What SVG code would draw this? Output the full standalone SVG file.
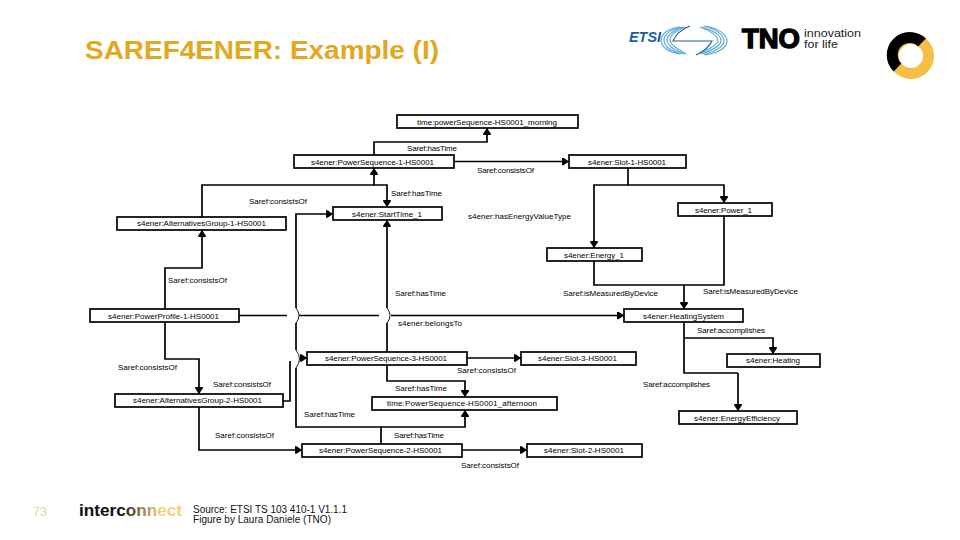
<svg xmlns="http://www.w3.org/2000/svg" width="960" height="540" viewBox="0 0 960 540">
<style>
text{font-family:"Liberation Sans",Arial,sans-serif}
.n rect{fill:#fff;stroke:#000;stroke-width:1.7}
.n text,.l text{font-size:8px;fill:#000}
.c path{fill:none;stroke:#000;stroke-width:1.7}
.c path.a{marker-end:url(#h)}
.c path.hop{stroke-width:.9}
</style>
<defs>
<marker id="h" markerUnits="userSpaceOnUse" markerWidth="8" markerHeight="9" refX="7" refY="4" orient="auto"><path d="M0 .2L1.500 .2L7 4L1.500 7.800L0 7.800Z" fill="#000"/></marker>
<linearGradient id="ic" gradientUnits="userSpaceOnUse" x1="120" y1="0" x2="160" y2="0"><stop offset="0" stop-color="#111"/><stop offset="1" stop-color="#efd27a"/></linearGradient>
</defs>
<rect width="960" height="540" fill="#fff"/>
<text x="85" y="59" font-size="26.500px" font-weight="700" fill="#E2A920" textLength="354" lengthAdjust="spacingAndGlyphs">SAREF4ENER: Example (I)</text>

<g id="logos">
<text x="629" y="42" font-size="14px" font-weight="700" font-style="italic" fill="#1C5E9E" textLength="32" lengthAdjust="spacingAndGlyphs">ETSI</text>
<g fill="none" stroke="#5DA9D6" stroke-width="1.200">
<path d="M680 27C666 29 661 35 661 40C661 46 667 52 680 54"/>
<path d="M682 27C670 30 664 35 664 40C664 46 671 51 682 54"/>
<path d="M684 27C674 30 667 35 667 40C667 45 674 50 684 54"/>
<path d="M686 27C678 30 670 35 670 40C670 45 678 49 686 54"/>
<path d="M706 26C720 29 727 35 727 41C727 47 720 52 706 55"/>
<path d="M704 26C716 29 724 35 724 41C724 47 716 51 704 55"/>
<path d="M702 27C712 30 721 35 721 41C721 46 712 50 702 54"/>
<path d="M700 27C708 30 718 35 718 41C718 45 708 49 700 54"/>
</g>
<path d="M690 26C680 30 675 36 673 41L712 41C710 46 704 51 696 55" fill="none" stroke="#1C5E9E" stroke-width="1.100"/>
<text x="742" y="48" font-size="27px" font-weight="700" fill="#000" stroke="#000" stroke-width="1.400" textLength="58" lengthAdjust="spacingAndGlyphs">TNO</text>
<text x="804" y="36.500" font-size="10.500px" fill="#222" textLength="57" lengthAdjust="spacingAndGlyphs">innovation</text>
<text x="804" y="48" font-size="10.500px" fill="#222" textLength="34" lengthAdjust="spacingAndGlyphs">for life</text>
<circle cx="911" cy="56" r="17.500" fill="none" stroke="#F6BE45" stroke-width="11"/>
<path d="M922 42.500A17.500 17.500 0 1 0 897.500 67.500" fill="none" stroke="#000" stroke-width="11"/>
</g>

<g id="connectors" class="c">
<path class="a" d="M374 155V142H487V128"/>
<path class="a" d="M454 161.500H569"/>
<path class="a" d="M202 217V185H374V168"/>
<path class="a" d="M374 185H387V207"/>
<path class="a" d="M165 309V268H202V230"/>
<path class="a" d="M628 168V185H594V248"/>
<path class="a" d="M628 185H724V203"/>
<path d="M594 261V285H724V216"/>
<path class="a" d="M684 285V309"/>
<path d="M239 315.500H287"/>
<path d="M299 315.500H379"/>
<path class="a" d="M391 315.500H624"/>
<path class="a" d="M165 322V359H199V394"/>
<path class="a" d="M199 407V450H302"/>
<path d="M381 444V427H296V368"/>
<path d="M296 350V323"/>
<path class="a" d="M296 308V214H333"/>
<path class="hop" d="M296 308Q302 315.500 296 323"/>
<path class="hop" d="M296 350Q303 359 296 368"/>
<path class="hop" d="M387 308Q393 315.500 387 323"/>
<path class="a" d="M387 308V220"/>
<path d="M387 323V352"/>
<path class="a" d="M387 365V381H465V397"/>
<path class="a" d="M381 427H465V410"/>
<path d="M283 401H290V361"/>
<path class="a" d="M300 358H307"/>
<path class="a" d="M467 358H521"/>
<path class="a" d="M462 450H527"/>
<path d="M684 322V373H738"/>
<path class="a" d="M738 373V411"/>
<path class="a" d="M684 338H773V354"/>
</g>

<g id="connector-labels" class="l">
<text x="407" y="151" textLength="50">Saref:hasTime</text>
<text x="477" y="173" textLength="57">Saref:consistsOf</text>
<text x="391" y="196" textLength="51">Saref:hasTime</text>
<text x="249" y="204" textLength="58">Saref:consistsOf</text>
<text x="468" y="219" textLength="103">s4ener:hasEnergyValueType</text>
<text x="168" y="283" textLength="59">Saref:consistsOf</text>
<text x="395" y="296" textLength="51">Saref:hasTime</text>
<text x="563" y="296" textLength="95">Saref:isMeasuredByDevice</text>
<text x="703" y="294" textLength="95">Saref:isMeasuredByDevice</text>
<text x="398" y="326" textLength="64">s4ener:belongsTo</text>
<text x="697" y="333" textLength="68">Saref:accomplishes</text>
<text x="643" y="387" textLength="67">Saref:accomplishes</text>
<text x="457" y="373" textLength="59">Saref:consistsOf</text>
<text x="118" y="370" textLength="59">Saref:consistsOf</text>
<text x="213" y="387" textLength="58">Saref:consistsOf</text>
<text x="395" y="391" textLength="52">Saref:hasTime</text>
<text x="304" y="417" textLength="51">Saref:hasTime</text>
<text x="215" y="438" textLength="59">Saref:consistsOf</text>
<text x="394" y="438" textLength="50">Saref:hasTime</text>
<text x="461" y="468" textLength="58">Saref:consistsOf</text>
</g>

<g id="time-morning" class="n"><rect x="397" y="115" width="181" height="13"/><text x="417" y="125" textLength="140">time:powerSequence-HS0001_morning</text></g>
<g id="ps1" class="n"><rect x="294" y="155" width="160" height="13"/><text x="311" y="165" textLength="123">s4ener:PowerSequence-1-HS0001</text></g>
<g id="slot1" class="n"><rect x="569" y="155" width="117" height="13"/><text x="588" y="165" textLength="78">s4ener:Slot-1-HS0001</text></g>
<g id="ag1" class="n"><rect x="117" y="217" width="169" height="13"/><text x="137" y="226" textLength="129">s4ener:AlternativesGroup-1-HS0001</text></g>
<g id="starttime" class="n"><rect x="333" y="207" width="109" height="13"/><text x="352" y="217" textLength="70">s4ener:StartTime_1</text></g>
<g id="power1" class="n"><rect x="678" y="203" width="94" height="13"/><text x="695" y="213" textLength="57">s4ener:Power_1</text></g>
<g id="energy1" class="n"><rect x="547" y="248" width="95" height="13"/><text x="564" y="258" textLength="60">s4ener:Energy_1</text></g>
<g id="pp1" class="n"><rect x="90" y="309" width="149" height="13"/><text x="108" y="319" textLength="111">s4ener:PowerProfile-1-HS0001</text></g>
<g id="heatingsystem" class="n"><rect x="624" y="309" width="119" height="13"/><text x="643" y="319" textLength="81">s4ener:HeatingSystem</text></g>
<g id="ps3" class="n"><rect x="307" y="352" width="160" height="13"/><text x="325" y="361" textLength="122">s4ener:PowerSequence-3-HS0001</text></g>
<g id="slot3" class="n"><rect x="521" y="352" width="115" height="13"/><text x="538" y="361" textLength="79">s4ener:Slot-3-HS0001</text></g>
<g id="heating" class="n"><rect x="727" y="354" width="93" height="13"/><text x="746" y="363" textLength="54">s4ener:Heating</text></g>
<g id="ag2" class="n"><rect x="115" y="394" width="168" height="13"/><text x="133" y="403" textLength="129">s4ener:AlternativesGroup-2-HS0001</text></g>
<g id="time-afternoon" class="n"><rect x="372" y="397" width="185" height="13"/><text x="387" y="406" textLength="150">time:PowerSequence-HS0001_afternoon</text></g>
<g id="ee" class="n"><rect x="679" y="411" width="118" height="13"/><text x="694" y="421" textLength="86">s4ener:EnergyEfficiency</text></g>
<g id="ps2" class="n"><rect x="302" y="444" width="160" height="13"/><text x="319" y="453" textLength="123">s4ener:PowerSequence-2-HS0001</text></g>
<g id="slot2" class="n"><rect x="527" y="444" width="115" height="13"/><text x="544" y="453" textLength="80">s4ener:Slot-2-HS0001</text></g>

<g id="footer">
<text x="33" y="516" font-size="12.500px" fill="#E3D6A6" textLength="14">73</text>
<text x="79" y="516" font-size="17px" font-weight="700" fill="url(#ic)" textLength="103" lengthAdjust="spacingAndGlyphs">interconnect</text>
<text x="193" y="513" font-size="10px" fill="#111" textLength="154">Source: ETSI TS 103 410-1 V1.1.1</text>
<text x="193" y="523" font-size="10px" fill="#111" textLength="138">Figure by Laura Daniele (TNO)</text>
</g>
</svg>
